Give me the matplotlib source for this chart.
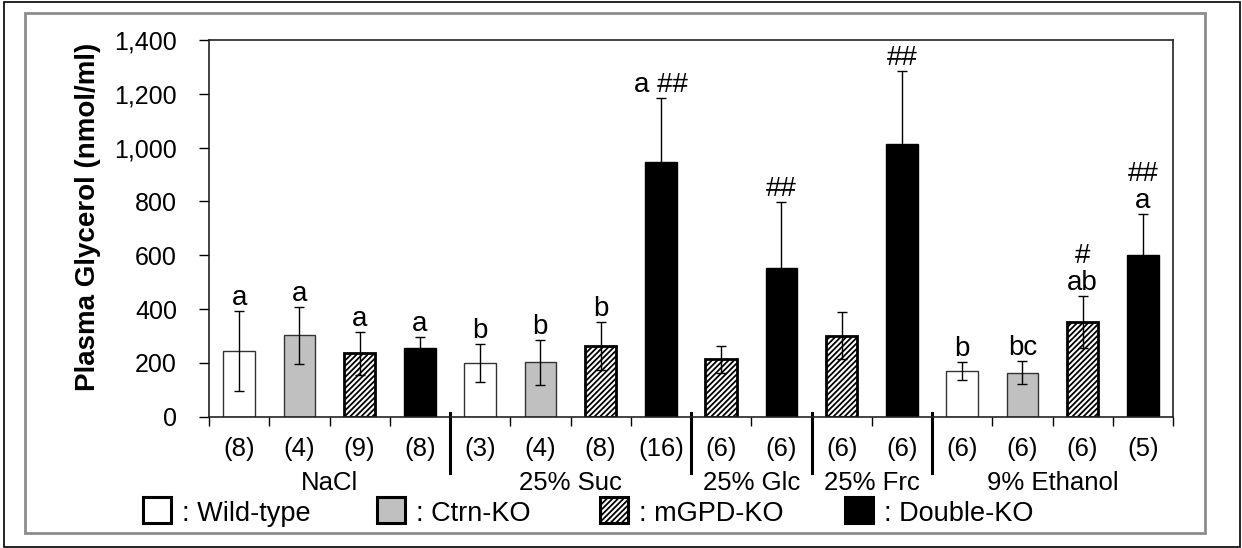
import matplotlib
matplotlib.use('Agg')
import matplotlib.pyplot as plt
import matplotlib.transforms as mtransforms
from matplotlib.patches import Rectangle

plt.rcParams['font.family'] = ['Liberation Sans', 'DejaVu Sans']
plt.rcParams['hatch.linewidth'] = 1.3

# data
groups = ['NaCl', '25% Suc', '25% Glc', '25% Frc', '9% Ethanol']
group_sizes = [4, 4, 2, 2, 4]
genotypes = ['Wild-type', 'Ctrn-KO', 'mGPD-KO', 'Double-KO']
bar_genotype = ['Wild-type', 'Ctrn-KO', 'mGPD-KO', 'Double-KO',
                'Wild-type', 'Ctrn-KO', 'mGPD-KO', 'Double-KO',
                'mGPD-KO', 'Double-KO',
                'mGPD-KO', 'Double-KO',
                'Wild-type', 'Ctrn-KO', 'mGPD-KO', 'Double-KO']
means = [244, 303, 236, 254, 199, 202, 263, 945, 214, 554, 301, 1013, 170, 164, 353, 601]
sems = [148, 106, 80, 43, 70, 83, 90, 238, 50, 243, 87, 270, 32, 43, 97, 154]
n_mice = [8, 4, 9, 8, 3, 4, 8, 16, 6, 6, 6, 6, 6, 6, 6, 5]
letters = ['a', 'a', 'a', 'a', 'b', 'b', 'b', 'a ##', '', '##', '', '##',
           'b', 'bc', '#\nab', '##\na']

styles = {
    'Wild-type': dict(facecolor='white', edgecolor='#333333', linewidth=1.0, hatch=None),
    'Ctrn-KO': dict(facecolor='#c0c0c0', edgecolor='#333333', linewidth=1.0, hatch=None),
    'mGPD-KO': dict(facecolor='white', edgecolor='black', linewidth=2.0, hatch='//////'),
    'Double-KO': dict(facecolor='black', edgecolor='black', linewidth=1.0, hatch=None),
}

W, H = 1242, 548
fig = plt.figure(figsize=(W / 100, H / 100), dpi=100)
ax = fig.add_axes([209 / W, 1 - 416.7 / H, 964 / W, 376.7 / H])

x = list(range(len(means)))
for xi, m, g in zip(x, means, bar_genotype):
    ax.bar(xi, m, width=0.52, zorder=2, **styles[g])
ax.errorbar(x, means, yerr=sems, fmt='none', ecolor='black', elinewidth=1.0,
            capsize=3.3, capthick=1.0, zorder=3)

ax.set_xlim(-0.5, len(means) - 0.5)
ax.set_ylim(0, 1400)
yt = list(range(0, 1401, 200))
ax.set_yticks(yt)
ax.set_yticklabels(['{:,}'.format(v) for v in yt])
ax.set_xticks([i - 0.5 for i in range(len(means) + 1)])
ax.tick_params(axis='x', length=6.5, width=1.0, labelbottom=False, direction='out')
ax.tick_params(axis='y', length=7, width=1.0, pad=16, labelsize=18, direction='out')
for sp in ax.spines.values():
    sp.set_linewidth(1.2)
    sp.set_color('#222222')

ax.set_ylabel('Plasma Glycerol (nmol/ml)', fontsize=20, fontweight='bold', va='center')
ax.yaxis.set_label_coords(-0.125, 0.53)

trans = mtransforms.blended_transform_factory(ax.transData, ax.transAxes)

# n per bar and group names
for xi, n in zip(x, n_mice):
    ax.text(xi, -0.0857, '(%d)' % n, transform=trans, ha='center', va='center', fontsize=18.5)
start = 0
for name, size in zip(groups, group_sizes):
    ax.text(start + size / 2 - 0.5, -0.176, name, transform=trans,
            ha='center', va='center', fontsize=18.5)
    if start > 0:
        ax.plot([start - 0.5, start - 0.5], [0.01, -0.15], transform=trans,
                color='black', lw=2.2, clip_on=False)
    start += size

# significance letters
for xi, m, s, lab in zip(x, means, sems, letters):
    if lab:
        ax.annotate(lab, xy=(xi, m + s), xytext=(0, 0), textcoords='offset points',
                    ha='center', va='bottom', fontsize=20, linespacing=1.05)

# legend drawn by hand under the axis
box_left = [143, 377, 600, 845]
for g, bx in zip(genotypes, box_left):
    st = dict(styles[g])
    st['linewidth'] = 2.2
    st['edgecolor'] = 'black'
    fig.add_artist(Rectangle((bx / W, 1 - 523 / H), 28 / W, 26 / H,
                             transform=fig.transFigure, **st))
    fig.text((bx + 39) / W, 1 - 521 / H, ': ' + g, ha='left', va='baseline', fontsize=19.5)

# frames
fig.add_artist(Rectangle((25 / W, 1 - 533 / H), 1180 / W, 520 / H, transform=fig.transFigure,
                         fill=False, edgecolor='#8c8c8c', linewidth=2.0))
fig.add_artist(Rectangle((4 / W, 1 - 546.5 / H), 1236 / W, 545 / H, transform=fig.transFigure,
                         fill=False, edgecolor='black', linewidth=1.2))

fig.savefig('out.png', dpi=100)
